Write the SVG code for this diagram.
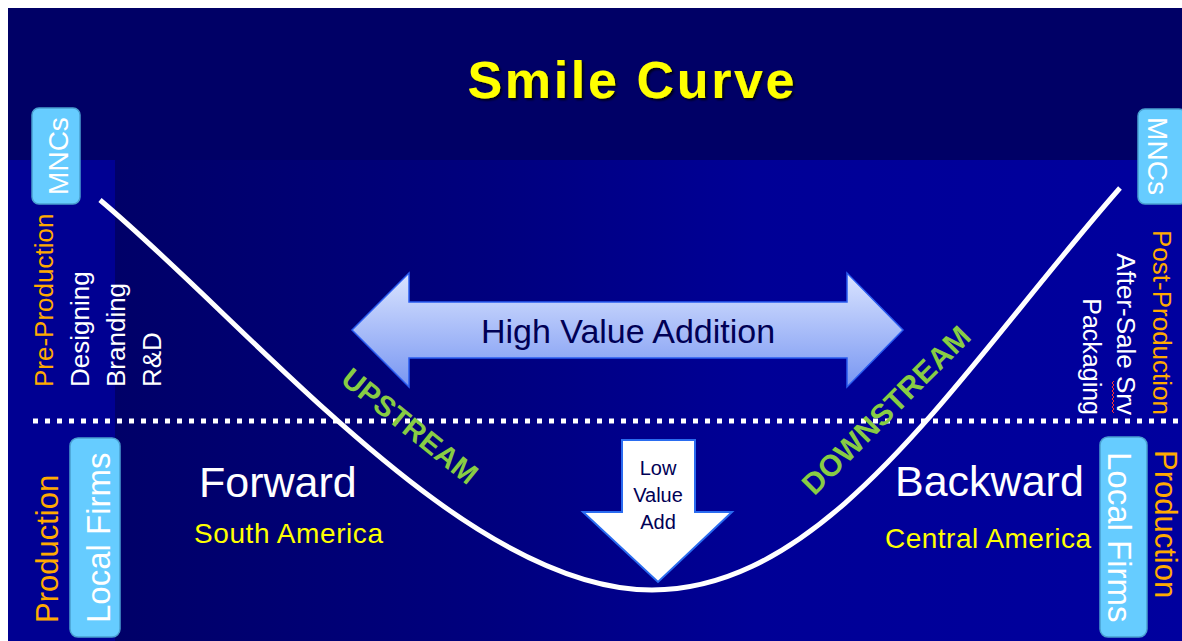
<svg xmlns="http://www.w3.org/2000/svg" width="1182" height="641" viewBox="0 0 1182 641">
<defs>
<style>
.t{font-family:"Liberation Sans",Arial,sans-serif}
.box{fill:#66ccff;stroke:#4a9fd0;stroke-width:1.5}
.wt{fill:#ffffff}
.or{fill:#ffaa00}
.ye{fill:#ffff00}
.gr{fill:#88cc44;font-weight:bold}
.nv{fill:#000055}
</style>
<linearGradient id="lower" x1="0" y1="0" x2="1" y2="0">
<stop offset="0" stop-color="#000068"/>
<stop offset="0.35" stop-color="#00007e"/>
<stop offset="0.6" stop-color="#000096"/>
<stop offset="1" stop-color="#00009e"/>
</linearGradient>
<linearGradient id="hva" x1="0" y1="0" x2="0" y2="1">
<stop offset="0" stop-color="#dae4ff"/>
<stop offset="1" stop-color="#7896f2"/>
</linearGradient>
<linearGradient id="vflare" x1="0" y1="0" x2="0" y2="1">
<stop offset="0" stop-color="#0044ff" stop-opacity="0.3"/>
<stop offset="0.45" stop-color="#1166ff"/>
<stop offset="0.68" stop-color="#ffffff"/>
<stop offset="0.85" stop-color="#1166ff"/>
<stop offset="1" stop-color="#0044ff" stop-opacity="0.4"/>
</linearGradient>
<linearGradient id="hflare" x1="0" y1="0" x2="1" y2="0">
<stop offset="0" stop-color="#0044ff" stop-opacity="0.6"/>
<stop offset="0.3" stop-color="#3377ff"/>
<stop offset="0.42" stop-color="#fffbe0"/>
<stop offset="0.65" stop-color="#3377ff"/>
<stop offset="1" stop-color="#0033cc" stop-opacity="0"/>
</linearGradient>
<filter id="sh" x="-10%" y="-10%" width="120%" height="130%">
<feDropShadow dx="2" dy="2" stdDeviation="1" flood-color="#000000" flood-opacity="0.8"/>
</filter>
</defs>

<rect x="0" y="0" width="1182" height="641" fill="#ffffff"/>
<rect x="8" y="8" width="1174" height="633" fill="#000066"/>
<rect x="115" y="160" width="1067" height="481" fill="url(#lower)"/>
<rect x="8" y="160" width="107" height="481" fill="#000092"/>
<line x1="8" y1="159.5" x2="330" y2="159.5" stroke="url(#hflare)" stroke-width="2"/>
<line x1="114.5" y1="8" x2="114.5" y2="235" stroke="url(#vflare)" stroke-width="2"/>

<g id="title"><text class="t ye" x="631" y="98" font-size="52" font-weight="bold" text-anchor="middle" textLength="327" filter="url(#sh)">Smile Curve</text></g>

<g id="connectors">
<line x1="33" y1="421" x2="1178" y2="421" stroke="#ffffff" stroke-width="5" stroke-dasharray="5 7"/>
<path d="M100,200 C255,330 465,590 652,590 C830,590 960,370 1120,188" fill="none" stroke="#ffffff" stroke-width="5"/>
</g>

<g id="mncs-left">
<rect class="box" x="32" y="108" width="48" height="96" rx="7"/>
<text class="t wt" x="68" y="156" font-size="28" text-anchor="middle" transform="rotate(-90 68 156)">MNCs</text>
</g>
<g id="mncs-right">
<rect class="box" x="1138" y="109" width="48" height="95" rx="7"/>
<text class="t wt" x="1148" y="156" font-size="28" text-anchor="middle" transform="rotate(90 1148 156)">MNCs</text>
</g>

<g id="pre-production">
<text class="t or" x="53" y="387" font-size="26" transform="rotate(-90 53 387)">Pre-Production</text>
<text class="t wt" x="89" y="387" font-size="26" transform="rotate(-90 89 387)">Designing</text>
<text class="t wt" x="125" y="387" font-size="26" transform="rotate(-90 125 387)">Branding</text>
<text class="t wt" x="161" y="387" font-size="26" transform="rotate(-90 161 387)">R&amp;D</text>
</g>

<g id="post-production">
<text class="t or" x="1153" y="415" font-size="26" text-anchor="end" transform="rotate(90 1153 415)">Post-Production</text>
<text class="t wt" x="1117" y="415" font-size="26" text-anchor="end" transform="rotate(90 1117 415)">After-Sale Srv</text>
<text class="t wt" x="1083" y="415" font-size="25" text-anchor="end" transform="rotate(90 1083 415)">Packaging</text>
<polyline points="1114,381 1112,383 1114,385 1112,387 1114,389 1112,391 1114,393 1112,395 1114,397 1112,399 1114,401 1112,403 1114,405 1112,407 1114,409 1112,411 1114,413" fill="none" stroke="#ff3333" stroke-width="1"/>
</g>

<g id="production-left">
<text class="t or" x="58" y="623" font-size="31" transform="rotate(-90 58 623)">Production</text>
<rect class="box" x="70" y="438" width="50" height="199" rx="8"/>
<text class="t wt" x="110" y="623" font-size="33" transform="rotate(-90 110 623)">Local Firms</text>
</g>
<g id="production-right">
<rect class="box" x="1100" y="437" width="47" height="200" rx="8"/>
<text class="t wt" x="1108" y="452" font-size="33" transform="rotate(90 1108 452)">Local Firms</text>
<text class="t or" x="1155" y="450" font-size="31" transform="rotate(90 1155 450)">Production</text>
</g>

<g id="high-value">
<polygon points="352,330 409,273 409,302 847,302 847,273 903,330 847,387 847,358 409,358 409,387" fill="url(#hva)" stroke="#2a5cf0" stroke-width="1.5"/>
<text class="t nv" x="628" y="343" font-size="34" text-anchor="middle">High Value Addition</text>
</g>

<g id="low-value">
<polygon points="622,440 695,440 695,512 732,512 658,582 583,512 622,512" fill="#ffffff" stroke="#2a6cf0" stroke-width="2"/>
<text class="t nv" x="658" y="475" font-size="20" text-anchor="middle">Low</text>
<text class="t nv" x="658" y="502" font-size="20" text-anchor="middle">Value</text>
<text class="t nv" x="658" y="529" font-size="20" text-anchor="middle">Add</text>
</g>

<g id="upstream"><text class="t gr" x="410" y="426" font-size="29" text-anchor="middle" dy="0.35em" textLength="165" transform="rotate(39 410 426)">UPSTREAM</text></g>
<g id="downstream"><text class="t gr" x="886" y="410" font-size="30" text-anchor="middle" dy="0.35em" textLength="224" transform="rotate(-45 886 410)">DOWNSTREAM</text></g>

<g id="forward">
<text class="t wt" x="199" y="497" font-size="43">Forward</text>
<text class="t ye" x="194" y="543" font-size="28" textLength="189">South America</text>
</g>
<g id="backward">
<text class="t wt" x="895" y="496" font-size="43">Backward</text>
<text class="t ye" x="885" y="548" font-size="28" textLength="206">Central America</text>
</g>
</svg>
